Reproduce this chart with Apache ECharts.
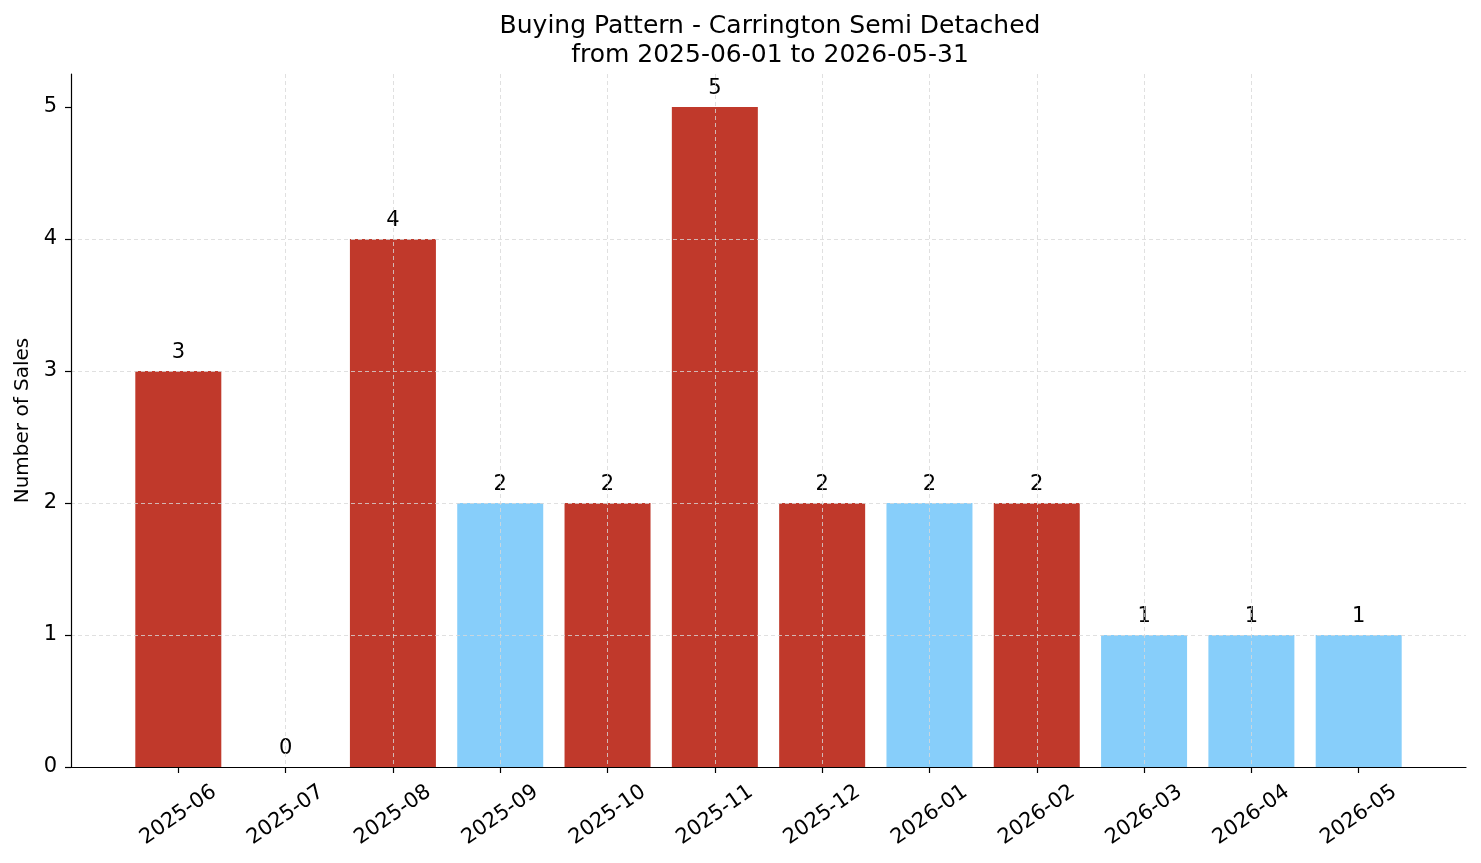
<!DOCTYPE html>
<html>
<head>
<meta charset="utf-8">
<script src="https://cdn.jsdelivr.net/npm/echarts@6/dist/echarts.min.js"></script>
<style>
  html, body { margin: 0; padding: 0; background: #fff; }
  #chart { width: 1481px; height: 863px; }
</style>
</head>
<body>
<div id="chart"></div>
<script>
// 月份
const months = ['2025-06', '2025-07', '2025-08', '2025-09', '2025-10', '2025-11',
                '2025-12', '2026-01', '2026-02', '2026-03', '2026-04', '2026-05']
// 销量
const sales = [3, 0, 4, 2, 2, 5, 2, 2, 2, 1, 1, 1]
// 分组 (a = 红, b = 蓝)
const groups = ['a', 'a', 'a', 'b', 'a', 'a', 'a', 'b', 'a', 'b', 'b', 'b']
const yTicks = [0, 1, 2, 3, 4, 5]

const groupColor = { a: '#c0392b', b: '#87cefa' }
const font = 'DejaVu Sans'

// x轴两边各留一格空白
let xData = [''].concat(months).concat([''])
let barData = [null]
for (let i = 0; i < sales.length; i++) {
    barData.push({
        value: sales[i],
        itemStyle: { color: groupColor[groups[i]] }
    })
}
barData.push(null)

const inner = (idx) => idx > 0 && idx < xData.length - 1

let option = {
    animation: false,
    backgroundColor: '#fff',
    title: {
        text: 'Buying Pattern - Carrington Semi Detached\nfrom 2025-06-01 to 2026-05-31',
        left: 765,
        top: 7,
        textAlign: 'center',
        textStyle: {
            fontFamily: font,
            fontSize: 25,
            fontWeight: 'normal',
            color: '#000',
            lineHeight: 29
        }
    },
    grid: {
        left: 71,
        right: 15,
        top: 74,
        bottom: 96
    },
    xAxis: {
        type: 'category',
        boundaryGap: false,
        data: xData,
        z: 3,
        axisLine: { lineStyle: { color: '#000', width: 1.2 } },
        axisTick: {
            interval: (idx) => inner(idx),
            length: 6,
            lineStyle: { color: '#000', width: 1.2 }
        },
        axisLabel: {
            interval: (idx) => inner(idx),
            rotate: 35,
            align: 'center',
            verticalAlign: 'middle',
            margin: 48,
            fontFamily: font,
            fontSize: 21,
            color: '#000'
        },
        splitLine: {
            show: true,
            showMinLine: false,
            showMaxLine: false,
            interval: (idx) => inner(idx),
            lineStyle: { color: '#d8d8d8', type: [4, 3], width: 0.8 }
        }
    },
    yAxis: {
        type: 'value',
        min: 0,
        max: 5.25,
        interval: 1,
        z: 3,
        name: 'Number of Sales',
        nameLocation: 'middle',
        nameGap: 38,
        nameTextStyle: { fontFamily: font, fontSize: 20, color: '#000' },
        axisLine: { show: true, lineStyle: { color: '#000', width: 1.2 } },
        axisTick: {
            show: true,
            length: 6,
            customValues: yTicks,
            lineStyle: { color: '#000', width: 1.2 }
        },
        axisLabel: {
            fontFamily: font,
            fontSize: 21,
            color: '#000',
            margin: 14,
            customValues: yTicks
        },
        splitLine: {
            show: true,
            showMaxLine: false,
            lineStyle: { color: '#d8d8d8', type: [4, 3], width: 0.8 }
        }
    },
    series: [{
        type: 'bar',
        data: barData,
        barWidth: 86,
        z: 1,
        label: {
            show: true,
            position: 'top',
            distance: 8,
            fontFamily: font,
            fontSize: 21,
            color: '#000'
        }
    }]
}

let chart = echarts.init(document.getElementById('chart'))
chart.setOption(option)
</script>
</body>
</html>
